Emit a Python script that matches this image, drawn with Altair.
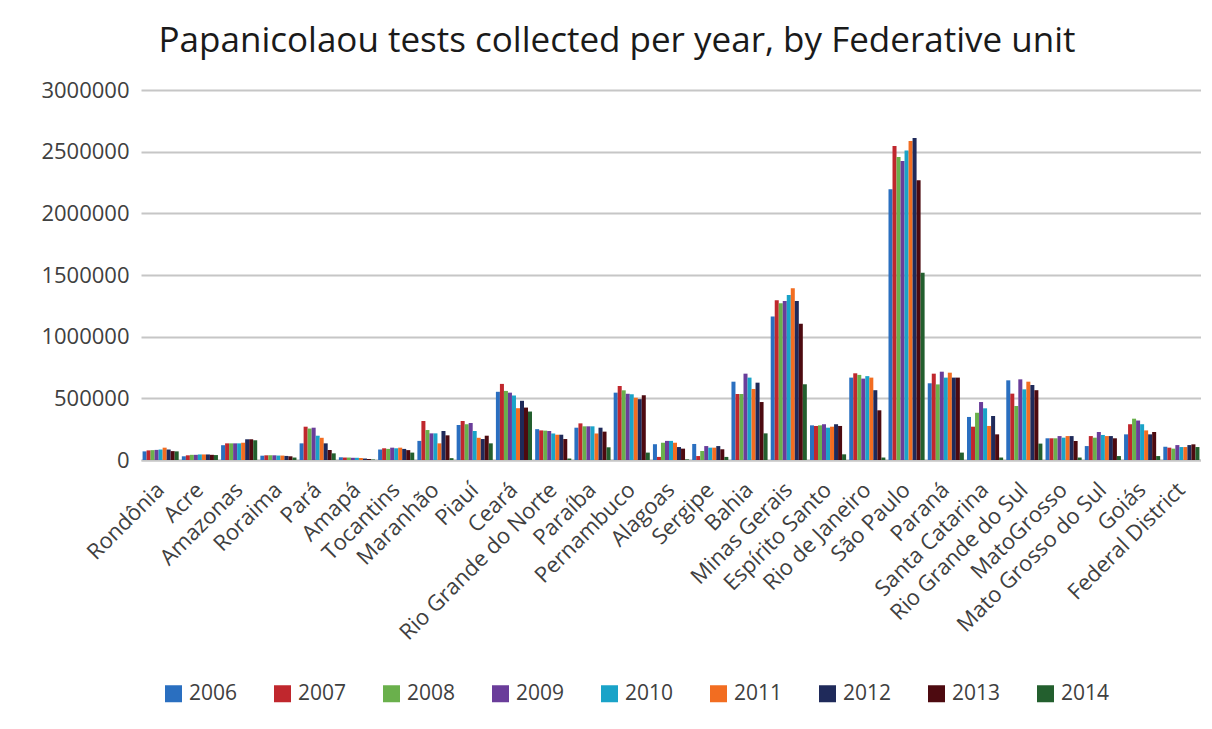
import altair as alt
import pandas as pd

states = ["Rondônia", "Acre", "Amazonas", "Roraima", "Pará", "Amapá", "Tocantins",
          "Maranhão", "Piauí", "Ceará", "Rio Grande do Norte", "Paraíba", "Pernambuco",
          "Alagoas", "Sergipe", "Bahia", "Minas Gerais", "Espírito Santo",
          "Rio de Janeiro", "São Paulo", "Paraná", "Santa Catarina",
          "Rio Grande do Sul", "MatoGrosso", "Mato Grosso do Sul", "Goiás",
          "Federal District"]

years = ["2006", "2007", "2008", "2009", "2010", "2011", "2012", "2013", "2014"]

y2006 = [70000, 30000, 120000, 35000, 135000, 22000, 85000, 155000, 284000, 553000, 250000, 262000, 546000, 128000, 130000, 635000, 1163000, 281000, 668000, 2196000, 622000, 349000, 646000, 176000, 113000, 208000, 108000]
y2007 = [78000, 38000, 135000, 38000, 270000, 20000, 95000, 316000, 316000, 617000, 240000, 297000, 600000, 25000, 32000, 535000, 1295000, 276000, 703000, 2546000, 700000, 270000, 538000, 176000, 194000, 290000, 100000]
y2008 = [80000, 42000, 135000, 38000, 255000, 20000, 90000, 243000, 290000, 560000, 238000, 273000, 565000, 140000, 73000, 535000, 1270000, 281000, 690000, 2456000, 613000, 383000, 438000, 176000, 181000, 335000, 92000]
y2009 = [82000, 42000, 135000, 38000, 262000, 18000, 100000, 216000, 300000, 546000, 235000, 273000, 537000, 155000, 113000, 700000, 1290000, 290000, 660000, 2425000, 716000, 470000, 654000, 194000, 227000, 320000, 121000]
y2010 = [85000, 45000, 135000, 36000, 197000, 18000, 95000, 216000, 235000, 523000, 215000, 273000, 533000, 155000, 100000, 668000, 1338000, 262000, 680000, 2510000, 668000, 419000, 573000, 181000, 203000, 290000, 105000]
y2011 = [100000, 45000, 140000, 36000, 180000, 16000, 100000, 135000, 180000, 420000, 205000, 215000, 505000, 140000, 100000, 576000, 1392000, 270000, 668000, 2587000, 708000, 276000, 635000, 194000, 194000, 240000, 105000]
y2012 = [85000, 45000, 168000, 33000, 135000, 12000, 90000, 235000, 170000, 480000, 205000, 262000, 493000, 105000, 113000, 627000, 1290000, 290000, 566000, 2610000, 668000, 357000, 608000, 194000, 194000, 208000, 121000]
y2013 = [72000, 42000, 168000, 30000, 81000, 8000, 80000, 200000, 197000, 425000, 170000, 230000, 525000, 92000, 87000, 470000, 1105000, 276000, 403000, 2268000, 668000, 208000, 566000, 154000, 176000, 227000, 127000]
y2014 = [70000, 40000, 160000, 20000, 54000, 4000, 60000, 15000, 135000, 393000, 12000, 103000, 60000, 5000, 25000, 216000, 614000, 46000, 20000, 1519000, 60000, 20000, 133000, 20000, 32000, 32000, 105000]

colors = ["#2a6fc0", "#c0272d", "#6ab04c", "#6a3d9a", "#1aa3c8", "#f26d21",
          "#1f2a5a", "#4d0a10", "#235f2e"]

series = [y2006, y2007, y2008, y2009, y2010, y2011, y2012, y2013, y2014]
rows = []
for yr, vals in zip(years, series):
    for st, v in zip(states, vals):
        rows.append({"state": st, "year": yr, "value": v})
df = pd.DataFrame(rows)

FONT = "Open Sans"
TXT = "#404040"

chart = alt.Chart(df).mark_bar().encode(
    x=alt.X("state:N", sort=states,
            scale=alt.Scale(paddingInner=0.08, paddingOuter=0.04),
            axis=alt.Axis(title=None, labelAngle=-45, labelAlign="right",
                          labelBaseline="middle", labelFontSize=22,
                          labelFont=FONT, labelColor=TXT, ticks=False,
                          labelPadding=26, labelLimit=400,
                          domainColor="#c6c6c6", domainWidth=2)),
    xOffset=alt.XOffset("year:N", sort=years),
    y=alt.Y("value:Q", scale=alt.Scale(domain=[0, 3000000]),
            axis=alt.Axis(title=None, values=[0, 500000, 1000000, 1500000,
                                              2000000, 2500000, 3000000],
                          format="d", labelFontSize=22, labelFont=FONT,
                          labelColor=TXT, ticks=False, domain=False,
                          labelPadding=12, gridColor="#c6c6c6",
                          gridWidth=2)),
    color=alt.Color("year:N", sort=years,
                    scale=alt.Scale(domain=years, range=colors),
                    legend=alt.Legend(title=None, orient="none",
                                      direction="horizontal", columns=9,
                                      legendX=22, legendY=593,
                                      symbolType="square", symbolSize=289,
                                      symbolStrokeWidth=0, labelFontSize=21,
                                      labelFont=FONT, labelColor=TXT,
                                      labelLimit=200,
                                      labelOffset=5, columnPadding=34)),
).properties(
    width=1060,
    height=370,
    title=alt.Title("Papanicolaou tests collected per year, by Federative unit",
                    fontSize=35, font=FONT, fontWeight="normal",
                    color="#1a1a1a", anchor="middle", dx=-54, offset=20),
    padding={"left": 32, "top": 16, "right": 0, "bottom": 20},
).configure_view(stroke=None)

chart.save("out.html", embed_options={"renderer": "svg", "actions": False})
